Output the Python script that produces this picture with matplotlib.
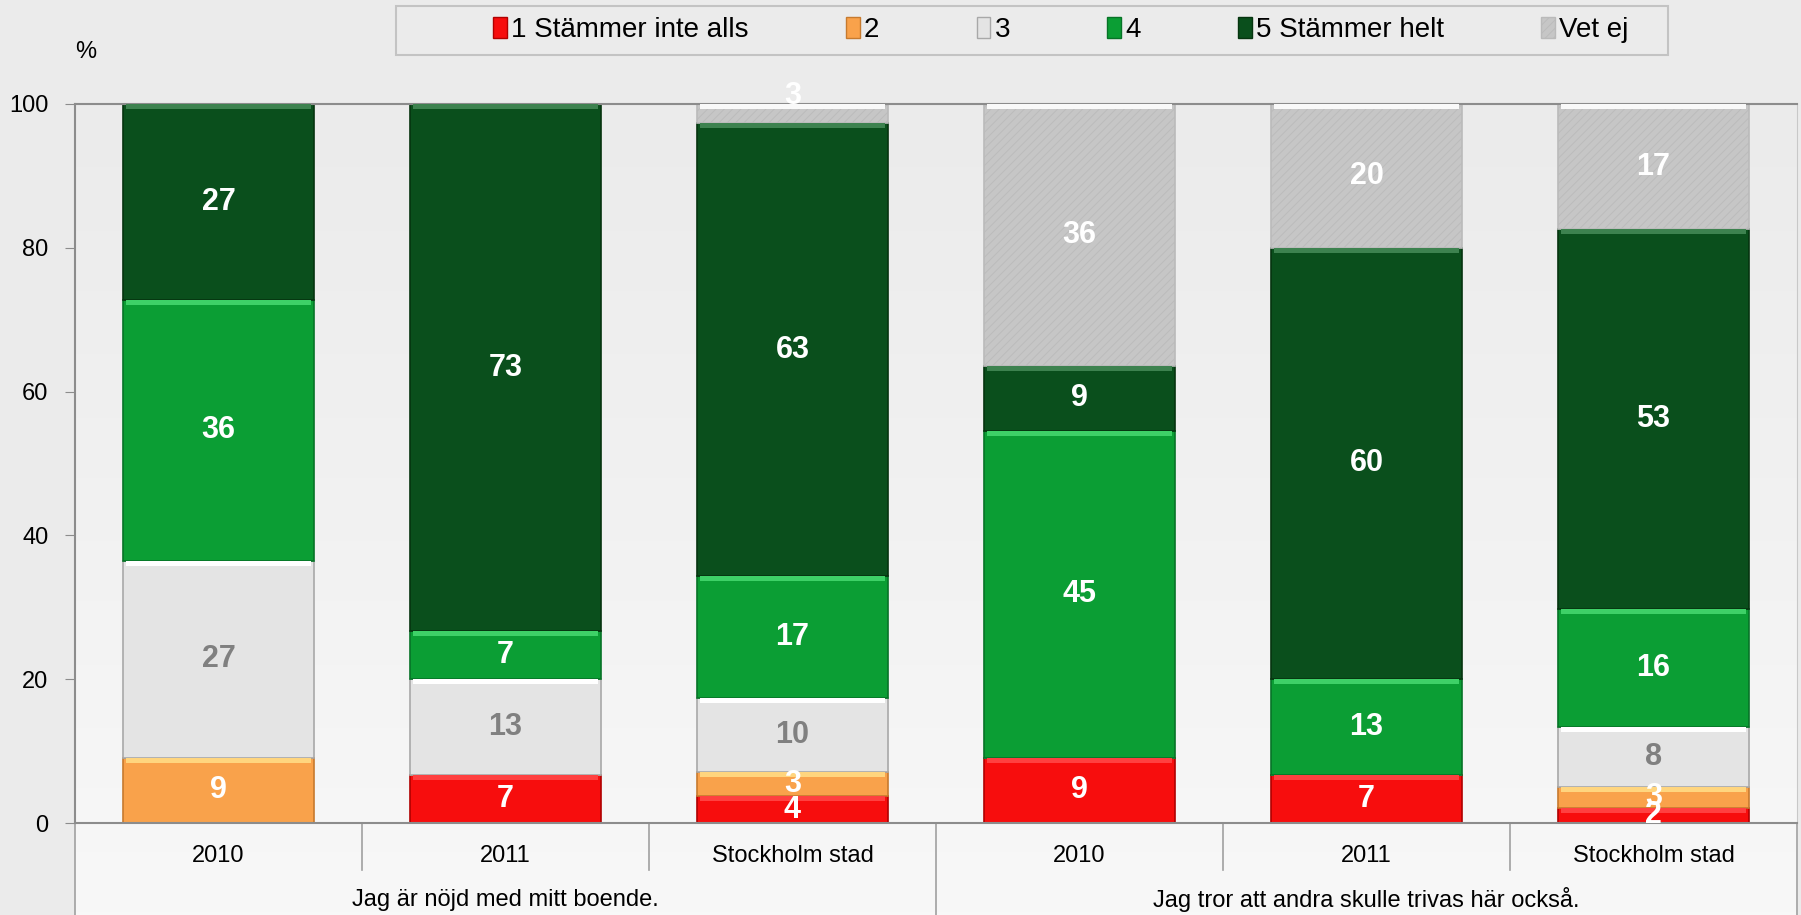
import numpy as np
import matplotlib
matplotlib.use("Agg")
import matplotlib.pyplot as plt
import matplotlib.transforms as mtransforms
from matplotlib.patches import Rectangle, Patch
from matplotlib.colors import LinearSegmentedColormap, to_rgb

plt.rcParams['font.family'] = ['Liberation Sans', 'DejaVu Sans']
plt.rcParams['hatch.linewidth'] = 0.6

# data (procent)
categories = ['2010', '2011', 'Stockholm stad', '2010', '2011', 'Stockholm stad']
groups = ['Jag är nöjd med mitt boende.', 'Jag tror att andra skulle trivas här också.']
series = ['1 Stämmer inte alls', '2', '3', '4', '5 Stämmer helt', 'Vet ej']

s1 = [0, 6.7, 3.7, 9.1, 6.7, 2.1]
s2 = [9.1, 0, 3.4, 0, 0, 2.9]
s3 = [27.3, 13.3, 10.3, 0, 0, 8.4]
s4 = [36.4, 6.7, 16.9, 45.4, 13.3, 16.3]
s5 = [27.2, 73.3, 63.0, 9.1, 60.0, 52.9]
s6 = [0, 0, 2.7, 36.4, 20.0, 17.4]
values = [s1, s2, s3, s4, s5, s6]

colors = ['#f70d0d', '#f9a24b', '#e4e4e4', '#0b9e34', '#0a4f1c', '#c6c6c6']
edges = ['#b00000', '#c77a2e', '#a8a8a8', '#077327', '#06340f', '#bababa']
label_colors = ['white', 'white', '#808080', 'white', 'white', 'white']

W_PX, H_PX = 1801, 915
L, R = 75 / W_PX, 1797 / W_PX
B, T = 1 - 823 / H_PX, 1 - 104 / H_PX

fig = plt.figure(figsize=(W_PX / 100, H_PX / 100), dpi=100, facecolor='#ebebeb')

# bakgrund med svag gradient
bg = fig.add_axes([L, 0, R - L, T], zorder=0)
cmap = LinearSegmentedColormap.from_list('bg', ['#ebebeb', '#f8f8f8'])
bg.imshow(np.linspace(0, 1, 256).reshape(-1, 1), cmap=cmap, aspect='auto',
          extent=[0, 1, 0, 1], origin='upper')
bg.axis('off')

ax = fig.add_axes([L, B, R - L, T - B], zorder=1)
ax.set_facecolor('none')

x = np.arange(len(categories))
width = 0.665
bottom = np.zeros(len(categories))

for i, vals in enumerate(values):
    vals = np.array(vals, dtype=float)
    hatch = '////' if i == 5 else None
    ax.bar(x, vals, width, bottom=bottom, color=colors[i], edgecolor=edges[i],
           linewidth=1.2, hatch=hatch, zorder=2)
    # ljus kant överst (bevel)
    light = tuple(min(1, c + 0.2) for c in to_rgb(colors[i]))
    hl = np.where(vals > 0, np.minimum(vals, 0.7), 0)
    ax.bar(x, hl, width * 0.97, bottom=bottom + vals - hl, color=light,
           linewidth=0, zorder=3)
    for xi, v, b in zip(x, vals, bottom):
        if v > 0:
            y = b + v / 2
            if i == len(values) - 1 and v < 5:
                y += 2.5  # liten topp-etikett hamnar ovanför stapeln
            ax.text(xi, y, f'{v:.0f}', ha='center', va='center',
                    fontsize=22, fontweight='bold', color=label_colors[i], zorder=4)
    bottom += vals

ax.set_xlim(-0.5, len(categories) - 0.5)
ax.set_ylim(0, 100)
ax.set_yticks(range(0, 101, 20))
ax.tick_params(axis='y', direction='out', length=7, color='#8c8c8c',
               labelsize=17, pad=12)
ax.set_xticks([])
for side in ['left', 'bottom', 'top']:
    ax.spines[side].set_color('#8c8c8c')
    ax.spines[side].set_linewidth(1.5)
ax.spines['right'].set_color('#c8c8c8')

# kategoritexter och tabellinjer under axeln
trans = mtransforms.blended_transform_factory(ax.transData, ax.transAxes)
ax_h = 823 - 104
for xi, cat in zip(x, categories):
    ax.text(xi, -33 / ax_h, cat, transform=trans, ha='center', va='center', fontsize=17)
for gi, g in enumerate(groups):
    ax.text(x[gi * 3: gi * 3 + 3].mean(), -77 / ax_h, g, transform=trans,
            ha='center', va='center', fontsize=17)
for xb in [0.5, 1.5, 3.5, 4.5]:
    ax.plot([xb, xb], [0, -47 / ax_h], transform=trans, color='#a0a0a0',
            lw=1.2, clip_on=False)
for xb in [-0.5, 2.5, 5.5]:
    ax.plot([xb, xb], [0, -92 / ax_h], transform=trans, color='#a0a0a0',
            lw=1.2, clip_on=False)

fig.text(86 / W_PX, 1 - 52 / H_PX, '%', fontsize=17, ha='center', va='center')

# legend
fig.patches.append(Rectangle((396 / W_PX, 1 - 55 / H_PX), 1272 / W_PX, 49 / H_PX,
                             transform=fig.transFigure, fc='#ebebeb', ec='#c3c3c3',
                             lw=1.5, zorder=0))
handles = [Patch(facecolor=c, edgecolor=e, hatch=('////' if i == 5 else None))
           for i, (c, e) in enumerate(zip(colors, edges))]
fig.legend(handles, series, ncol=6, loc='center',
           bbox_to_anchor=(1061 / W_PX, 1 - 30 / H_PX), frameon=False, fontsize=20,
           handlelength=0.5, handleheight=0.8, handletextpad=0.15, columnspacing=3.5)

fig.savefig('out.png', dpi=100, facecolor=fig.get_facecolor())
